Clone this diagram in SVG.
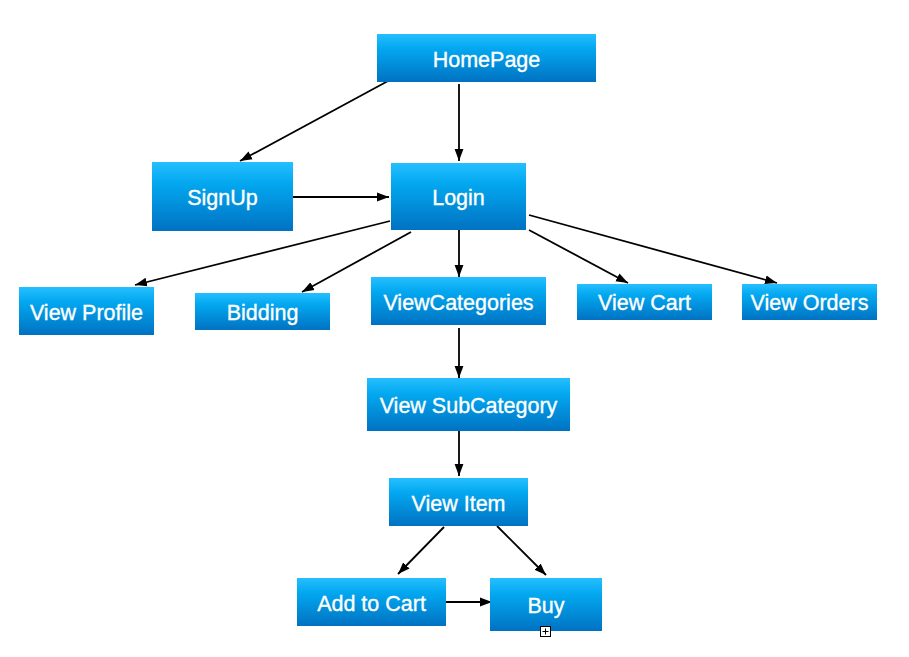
<svg xmlns="http://www.w3.org/2000/svg" width="909" height="657" viewBox="0 0 909 657">
<defs>
<linearGradient id="g" x1="0" y1="0" x2="0" y2="1">
<stop offset="0" stop-color="#26bfff"/>
<stop offset="0.3" stop-color="#03a8f0"/>
<stop offset="1" stop-color="#0072c2"/>
</linearGradient>
<marker id="a" viewBox="0 0 12 10" refX="12" refY="5" markerWidth="12" markerHeight="10" markerUnits="userSpaceOnUse" orient="auto">
<path d="M0,0.6 L12,5 L0,9.4 Z" fill="#000"/>
</marker>
<style>
.n rect{fill:url(#g);}
.n text{fill:#fff;stroke:#fff;stroke-width:0.35;font-family:"Liberation Sans",Arial,sans-serif;font-size:21.5px;text-anchor:middle;dominant-baseline:central;}
.c line{stroke:#000;stroke-width:1.8;marker-end:url(#a);}
</style>
</defs>
<rect width="909" height="657" fill="#fff"/>
<g class="c">
<line x1="388" y1="81" x2="240" y2="161"/>
<line x1="459" y1="84" x2="459" y2="161"/>
<line x1="293" y1="197" x2="389" y2="197"/>
<line x1="390" y1="221" x2="135" y2="285"/>
<line x1="411" y1="232" x2="302" y2="292"/>
<line x1="459" y1="226" x2="459" y2="277"/>
<line x1="529" y1="230" x2="628" y2="283"/>
<line x1="529" y1="215" x2="777" y2="283"/>
<line x1="459" y1="328" x2="459" y2="378"/>
<line x1="459" y1="430" x2="459" y2="476"/>
<line x1="444" y1="527" x2="398" y2="574"/>
<line x1="497" y1="526" x2="546" y2="575"/>
<line x1="446" y1="602" x2="492" y2="602"/>
</g>
<g id="homepage" class="n"><rect x="377" y="34" width="219" height="48"/><text x="486.5" y="60">HomePage</text></g>
<g id="signup" class="n"><rect x="152" y="162" width="141" height="69"/><text x="222.5" y="197.5">SignUp</text></g>
<g id="login" class="n"><rect x="391" y="163" width="135" height="67"/><text x="458.5" y="197.5">Login</text></g>
<g id="viewprofile" class="n"><rect x="19" y="287" width="135" height="48"/><text x="86.5" y="313">View Profile</text></g>
<g id="bidding" class="n"><rect x="195" y="293" width="135" height="37"/><text x="262.5" y="313">Bidding</text></g>
<g id="viewcategories" class="n"><rect x="371" y="277" width="175" height="48"/><text x="458.5" y="303">ViewCategories</text></g>
<g id="viewcart" class="n"><rect x="577" y="284" width="135" height="36"/><text x="644.5" y="303">View Cart</text></g>
<g id="vieworders" class="n"><rect x="742" y="284" width="135" height="36"/><text x="809.5" y="303">View Orders</text></g>
<g id="viewsubcategory" class="n"><rect x="367" y="378" width="203" height="53"/><text x="468.5" y="405.5">View SubCategory</text></g>
<g id="viewitem" class="n"><rect x="389" y="478" width="139" height="48"/><text x="458.5" y="504">View Item</text></g>
<g id="addtocart" class="n"><rect x="297" y="578" width="149" height="48"/><text x="371.5" y="604">Add to Cart</text></g>
<g id="buy" class="n"><rect x="490" y="578" width="112" height="53"/><text x="546" y="606">Buy</text></g>
<g id="icon">
<rect x="540.5" y="626.5" width="10" height="10" fill="#fff" stroke="#000" stroke-width="1"/>
<path d="M545.5,628.5 V634.5 M542.5,631.5 H548.5" stroke="#000" stroke-width="1"/>
</g>
</svg>
